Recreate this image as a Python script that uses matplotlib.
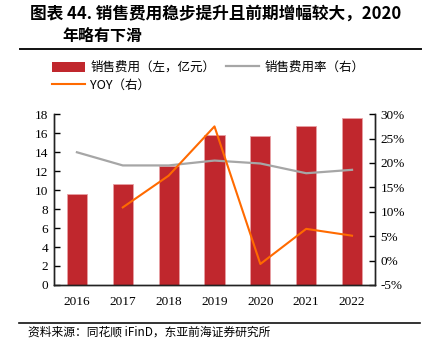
import matplotlib
matplotlib.use("Agg")
import matplotlib.pyplot as plt
from matplotlib.patches import Patch
from matplotlib.lines import Line2D

years = ["2016", "2017", "2018", "2019", "2020", "2021", "2022"]
sales_exp = [9.56, 10.61, 12.5, 15.84, 15.73, 16.75, 17.63]
exp_ratio = [22.2, 19.5, 19.5, 20.5, 19.9, 17.9, 18.6]
yoy_years = ["2017", "2018", "2019", "2020", "2021", "2022"]
yoy = [10.9, 17.4, 27.5, -0.7, 6.5, 5.1]

left_ticks = list(range(0, 19, 2))
right_ticks = list(range(-5, 31, 5))

serif = ["Liberation Serif", "Noto Sans CJK SC"]
cjk = ["Noto Sans CJK SC", "Liberation Serif"]

fig = plt.figure(figsize=(4.34, 3.58), dpi=100)
ax = fig.add_axes([0.1244, 0.204, 0.7396, 0.477])

x = list(range(len(years)))
ax.bar(x, sales_exp, width=0.44, color="#C0272D", edgecolor="#E8A0A4", linewidth=0.6, zorder=2)
ax.set_xlim(-0.5, len(years) - 0.5)
ax.set_ylim(0, 18)
ax.set_yticks(left_ticks)
ax.set_xticks(x)
ax.set_xticklabels(years)
ax.spines["top"].set_visible(False)
for s in ["left", "right", "bottom"]:
    ax.spines[s].set_linewidth(1.0)
    ax.spines[s].set_color("#222222")
ax.tick_params(axis="y", direction="in", length=4, width=1, labelsize=9.5, pad=4)
ax.tick_params(axis="x", length=0, labelsize=9.5, pad=8)
for lab in ax.get_xticklabels() + ax.get_yticklabels():
    lab.set_family(serif)

ax2 = ax.twinx()
ax2.plot(x, exp_ratio, color="#A6A6A6", linewidth=1.6, zorder=3)
xi = [years.index(y) for y in yoy_years]
ax2.plot(xi, yoy, color="#FF6A00", linewidth=1.5, zorder=4)
ax2.set_ylim(-5, 30)
ax2.set_yticks(right_ticks)
ax2.set_yticklabels([f"{t}%" for t in right_ticks])
ax2.spines["top"].set_visible(False)
for s in ["left", "right", "bottom"]:
    ax2.spines[s].set_linewidth(1.0)
    ax2.spines[s].set_color("#222222")
ax2.tick_params(axis="y", direction="in", length=4, width=1, labelsize=9.5, pad=4)
for lab in ax2.get_yticklabels():
    lab.set_family(serif)

# Title
fig.text(30 / 434, 1 - 14 / 358, "图表 44. 销售费用稳步提升且前期增幅较大，2020",
         family=cjk, fontsize=12, fontweight="bold", va="center", ha="left")
fig.text(62 / 434, 1 - 37 / 358, "年略有下滑",
         family=cjk, fontsize=11.5, fontweight="bold", va="center", ha="left")
fig.add_artist(Line2D([20 / 434, 421 / 434], [1 - 49 / 358] * 2, color="#111111", linewidth=1.4))

# Legend (column-first fill: red, orange | gray)
h_bar = Patch(facecolor="#C0272D", edgecolor="none")
h_ratio = Line2D([], [], color="#A6A6A6", linewidth=1.6)
h_yoy = Line2D([], [], color="#FF6A00", linewidth=1.5)
handles = [h_bar, h_yoy, h_ratio]
labels = ["销售费用（左，亿元）", "YOY（右）", "销售费用率（右）"]
leg = fig.legend(handles, labels, loc="upper left", bbox_to_anchor=(52 / 434, 1 - 61 / 358),
                 ncol=2, frameon=False, prop={"family": cjk, "size": 9},
                 handlelength=2.6, handleheight=0.85, handletextpad=0.45,
                 columnspacing=0.9, labelspacing=0.4, borderaxespad=0, borderpad=0)

# Bottom line and source
fig.add_artist(Line2D([19 / 434, 420 / 434], [1 - 323 / 358] * 2, color="#111111", linewidth=1.2))
fig.text(28 / 434, 1 - 332 / 358, "资料来源：同花顺 iFinD，东亚前海证券研究所",
         family=cjk, fontsize=8.5, va="center", ha="left")

fig.savefig("out.png", dpi=100)
